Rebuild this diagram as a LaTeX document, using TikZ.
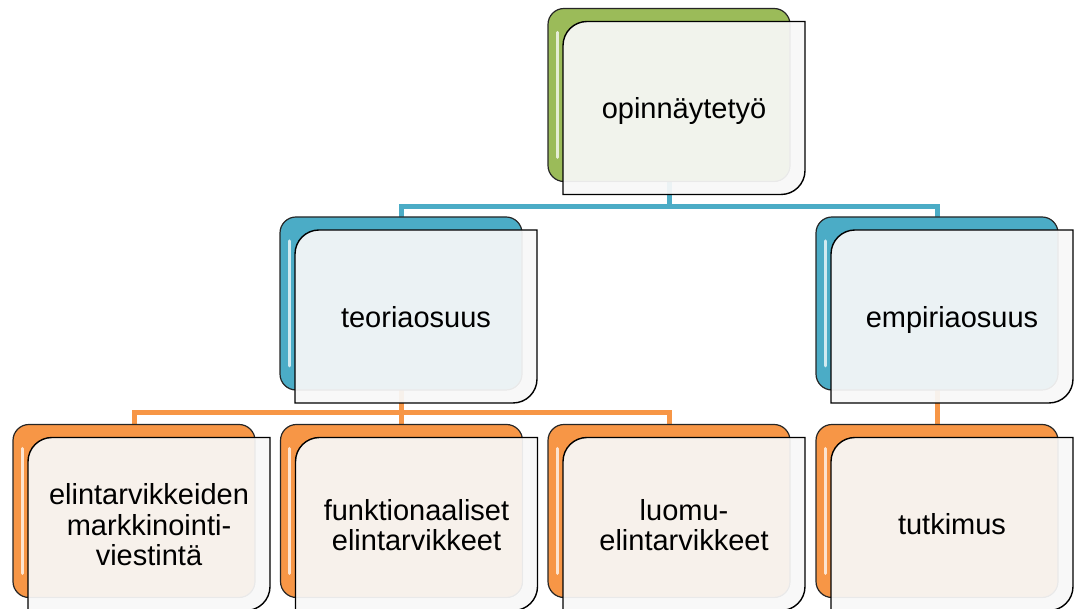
\documentclass[tikz,border=0pt]{standalone}
\usepackage{fontspec}
\setmainfont{Liberation Sans}
\usetikzlibrary{calc}
\definecolor{cardgreen}{HTML}{9BBB59}
\definecolor{cardblue}{HTML}{4BACC6}
\definecolor{cardorange}{HTML}{F79646}
\definecolor{cardface}{HTML}{F8F8F8}

% one card: coloured back plate, gloss streak, translucent front plate
\newcommand\card[2]{%
  \draw[backcard, fill=#2] (#1.south west) rectangle (#1.north east);
  \draw[gloss] ($(#1.north west)+(9pt,-24pt)$) -- ($(#1.south west)+(9pt,24pt)$);
  \draw[frontcard] let \p1=($(#1.south west)+(15pt,-13pt)$),
                       \p2=($(#1.north east)+(15pt,-13pt)$) in
    (\x1,\y1) -- (\x1,\y2-24pt) arc[start angle=180,end angle=90,radius=24pt]
    -- (\x2,\y2) -- (\x2,\y1+24pt) arc[start angle=0,end angle=-90,radius=24pt]
    -- cycle;
}

\begin{document}
\begin{tikzpicture}[x=1pt,y=1pt,
  slot/.style={minimum width=242pt, minimum height=173pt, inner sep=0pt, outer sep=0pt},
  backcard/.style={draw=black!85, line width=1.2pt, rounded corners=16pt},
  frontcard/.style={draw=black, line width=1.4pt, fill=cardface, fill opacity=0.93},
  gloss/.style={draw=white, draw opacity=0.75, line width=3pt, line cap=round},
  bluebus/.style={draw=cardblue, line width=5pt},
  orangebus/.style={draw=cardorange, line width=5pt},
  cardtext/.style={font=\fontsize{29}{30.5}\selectfont, align=center, inner sep=0pt,
                   text height=28pt, text depth=6pt},
  smalltext/.style={font=\fontsize{29}{30.5}\selectfont, align=center, inner sep=0pt},
]
\useasboundingbox (0,0) rectangle (1075,609);
\clip (0,0) rectangle (1075,609);

% card positions (back plates)
\node[slot] (top) at (669,514) {};
\node[slot] (teo) at (401,305.5) {};
\node[slot] (emp) at (937,305.5) {};
\node[slot] (c1) at (134,98) {};
\node[slot] (c2) at (401.5,98) {};
\node[slot] (c3) at (669,98) {};
\node[slot] (c4) at (937,98) {};

% connectors
\draw[bluebus] (top.south) -- ++(0,-25.5) -| (teo.north);
\draw[bluebus] (top.south) -- ++(0,-25.5) -| (emp.north);
\draw[orangebus] (teo.south) -- ++(0,-23) -| (c1.north);
\draw[orangebus] (teo.south) -- ++(0,-23) -| (c2.north);
\draw[orangebus] (teo.south) -- ++(0,-23) -| (c3.north);
\draw[orangebus] (emp.south) -- (c4.north);

% cards
\card{top}{cardgreen}
\card{teo}{cardblue}
\card{emp}{cardblue}
\card{c1}{cardorange}
\card{c2}{cardorange}
\card{c3}{cardorange}
\card{c4}{cardorange}

% labels
\node[cardtext] (topl) at ($(top.center)+(15,-13)$) {opinnäytetyö};
\node[cardtext] (teol) at ($(teo.center)+(15,-13)$) {teoriaosuus};
\node[cardtext] (empl) at ($(emp.center)+(15,-13)$) {empiriaosuus};
\node[smalltext] (c1l) at ($(c1.center)+(15,-14)$) {elintarvikkeiden\\markkinointi-\\viestintä};
\node[smalltext] (c2l) at ($(c2.center)+(15,-14)$) {funktionaaliset\\elintarvikkeet};
\node[smalltext] (c3l) at ($(c3.center)+(15,-14)$) {luomu-\\elintarvikkeet};
\node[cardtext] (c4l) at ($(c4.center)+(15,-13)$) {tutkimus};
\end{tikzpicture}
\end{document}
